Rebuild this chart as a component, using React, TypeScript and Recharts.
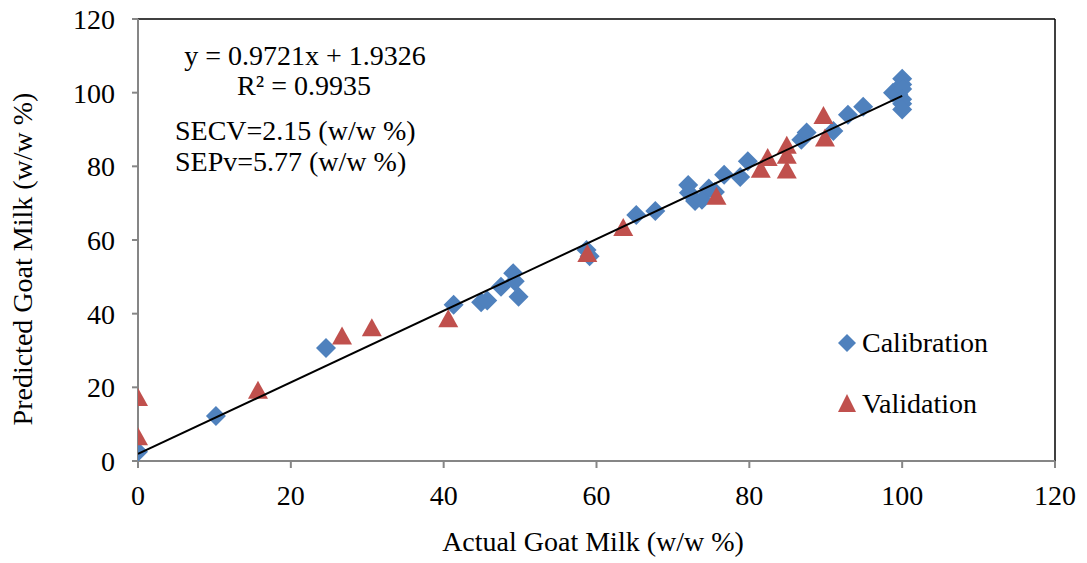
import React from 'react'
import {
  ScatterChart,
  Scatter,
  XAxis,
  YAxis,
  ReferenceLine,
} from 'recharts'

// Calibration set (actual %, predicted %)
const CAL_X = [
  0, 10.2, 24.6, 41.3, 44.9, 45.7, 47.5, 49.1, 49.3, 49.8, 58.7, 59.1, 65.2,
  67.7, 72.0, 72.1, 72.9, 73.8, 74.7, 75.5, 76.7, 78.8, 79.8, 86.8, 87.5, 91.0,
  92.9, 94.9, 98.8, 99.5, 100, 100, 100, 100, 100, 100,
]
const CAL_Y = [
  2.5, 12.2, 30.7, 42.4, 43.1, 43.6, 47.3, 51.0, 48.8, 44.6, 57.3, 55.6, 66.8,
  67.9, 74.9, 72.8, 70.6, 70.9, 74.0, 73.0, 77.7, 77.1, 81.4, 87.2, 89.2, 89.6,
  94.0, 96.2, 100.0, 99.6, 103.8, 102.2, 101.0, 98.2, 97.0, 95.4,
]

// Validation set (actual %, predicted %)
const VAL_X = [0, 0, 15.7, 26.7, 30.6, 40.6, 58.8, 63.5, 75.7, 81.5, 82.4, 84.9, 84.9, 84.9, 89.7, 89.9]
const VAL_Y = [16.8, 6.2, 18.8, 33.5, 35.8, 38.2, 55.9, 63.0, 71.5, 78.8, 82.0, 78.6, 82.6, 85.3, 93.4, 87.3]

// Trendline from the fitted equation
const SLOPE = 0.9721
const INTERCEPT = 1.9326
const TREND_X = [0, 100]

const TICKS = [0, 20, 40, 60, 80, 100, 120]

const FONT = '"Liberation Serif", "Times New Roman", serif'
const BLUE = '#4F81BD'
const RED = '#C0504D'
const AXIS_GRAY = '#868686'

const calData = CAL_X.map((x, i) => ({ x, y: CAL_Y[i] }))
const valData = VAL_X.map((x, i) => ({ x, y: VAL_Y[i] }))
const trendData = TREND_X.map((x) => ({ x, y: SLOPE * x + INTERCEPT }))

const Diamond = ({ cx, cy }: any) => (
  <path d={`M${cx},${cy - 10} L${cx + 10},${cy} L${cx},${cy + 10} L${cx - 10},${cy} Z`} fill={BLUE} />
)

const Triangle = ({ cx, cy }: any) => (
  <path d={`M${cx},${cy - 11} L${cx + 10},${cy + 7} L${cx - 10},${cy + 7} Z`} fill={RED} />
)

export default function App() {
  const tick = { fill: '#000', fontSize: 28, fontFamily: FONT }
  return (
    <div style={{ position: 'absolute', left: 0, top: 0, width: 1087, height: 563, background: '#fff', fontFamily: FONT }}>
      <ScatterChart width={1087} height={563} margin={{ top: 19, right: 32, bottom: 0, left: 0 }} style={{ fontFamily: FONT }}>
        <XAxis
          type="number"
          dataKey="x"
          domain={[0, 120]}
          ticks={TICKS}
          tick={tick}
          tickSize={7}
          tickMargin={17}
          height={102}
          stroke={AXIS_GRAY}
          strokeWidth={2}
          allowDataOverflow
        />
        <YAxis
          type="number"
          dataKey="y"
          domain={[0, 120]}
          ticks={TICKS}
          tick={tick}
          tickSize={6}
          tickMargin={17}
          width={138}
          stroke={AXIS_GRAY}
          strokeWidth={2}
          allowDataOverflow
        />
        <ReferenceLine y={120} stroke="#000" strokeWidth={1.5} />
        <ReferenceLine x={120} stroke="#000" strokeWidth={1.5} />
        <Scatter data={calData} fill={BLUE} shape={<Diamond />} isAnimationActive={false} name="Calibration" />
        <Scatter data={valData} fill={RED} shape={<Triangle />} isAnimationActive={false} name="Validation" />
        <Scatter
          data={trendData}
          line={{ stroke: '#000', strokeWidth: 2 }}
          shape={() => <g />}
          isAnimationActive={false}
        />
      </ScatterChart>
      <svg
        width={1087}
        height={563}
        style={{ position: 'absolute', left: 0, top: 0, pointerEvents: 'none' }}
        fontFamily={FONT}
        fontSize={28}
      >
        <text x={305} y={65} textAnchor="middle">y = 0.9721x + 1.9326</text>
        <text x={304} y={95} textAnchor="middle">R² = 0.9935</text>
        <text x={175} y={140}>SECV=2.15 (w/w %)</text>
        <text x={175} y={171}>SEPv=5.77 (w/w %)</text>
        <text x={593} y={551} textAnchor="middle">Actual Goat Milk (w/w %)</text>
        <text x={32} y={259} textAnchor="middle" transform="rotate(-90 32 259)">
          Predicted Goat Milk (w/w %)
        </text>
        {/* legend */}
        <path d="M847,334 L856,343 L847,352 L838,343 Z" fill={BLUE} />
        <text x={862} y={352}>Calibration</text>
        <path d="M847,394 L856,412 L838,412 Z" fill={RED} />
        <text x={862} y={413}>Validation</text>
      </svg>
    </div>
  )
}
